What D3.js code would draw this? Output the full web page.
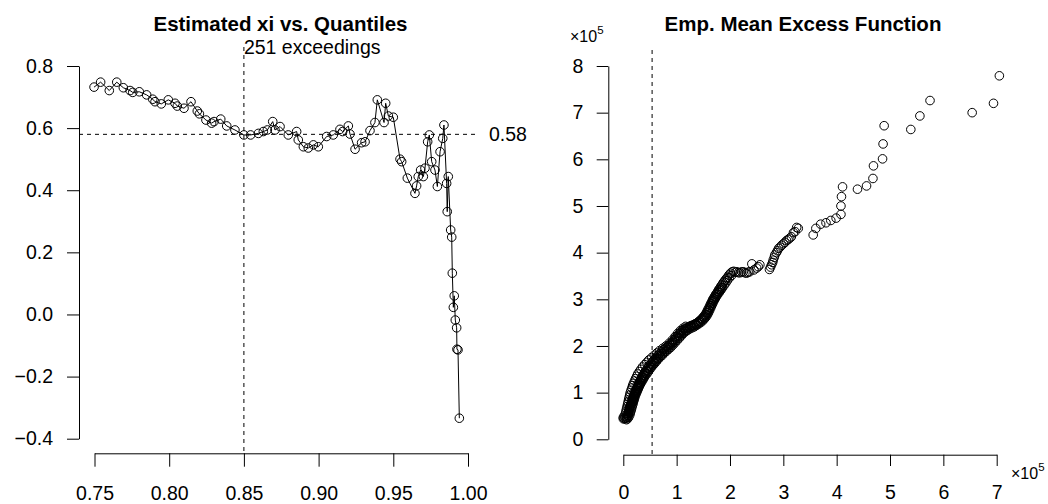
<!DOCTYPE html>
<html>
<head>
<meta charset="utf-8">
<script src="https://cdn.jsdelivr.net/npm/d3@7"></script>
<style>
  body { margin: 0; background: #fff; }
  svg { display: block; font-family: "Liberation Sans", Arial, Helvetica, sans-serif; }
</style>
</head>
<body>
<svg id="chart" width="1048" height="504"></svg>
<script>
// left panel: shape estimate (xi) against the threshold quantile
const xiQuantiles = [0.7497, 0.7541, 0.7599, 0.7649, 0.7693, 0.7738, 0.7756, 0.7800, 0.7849, 0.7890,
  0.7905, 0.7947, 0.7994, 0.8039, 0.8054, 0.8099, 0.8146, 0.8188, 0.8202, 0.8246,
  0.8284, 0.8300, 0.8345, 0.8385, 0.8440, 0.8500, 0.8545, 0.8597, 0.8630, 0.8657,
  0.8693, 0.8708, 0.8742, 0.8797, 0.8853, 0.8864, 0.8898, 0.8931, 0.8965, 0.8998,
  0.9054, 0.9098, 0.9143, 0.9161, 0.9199, 0.9210, 0.9244, 0.9288, 0.9311, 0.9344,
  0.9377, 0.9393, 0.9438, 0.9449, 0.9467, 0.9500, 0.9545, 0.9556, 0.9594, 0.9645,
  0.9656, 0.9667, 0.9683, 0.9701, 0.9712, 0.9730, 0.9741, 0.9757, 0.9779, 0.9795,
  0.9813, 0.9831, 0.9839, 0.9857, 0.9861, 0.9868, 0.9884, 0.9891, 0.9895, 0.9902,
  0.9908, 0.9915, 0.9924, 0.9926, 0.9933, 0.9942];
const xiEstimates = [0.732, 0.748, 0.721, 0.748, 0.730, 0.721, 0.715, 0.717, 0.707, 0.693,
  0.685, 0.678, 0.691, 0.680, 0.671, 0.664, 0.685, 0.655, 0.646, 0.626,
  0.616, 0.621, 0.629, 0.607, 0.594, 0.578, 0.578, 0.583, 0.589, 0.594,
  0.621, 0.594, 0.605, 0.578, 0.589, 0.562, 0.540, 0.536, 0.546, 0.540,
  0.573, 0.578, 0.596, 0.589, 0.607, 0.581, 0.532, 0.553, 0.556, 0.592,
  0.618, 0.691, 0.618, 0.680, 0.639, 0.635, 0.500, 0.492, 0.439, 0.390,
  0.414, 0.444, 0.465, 0.444, 0.471, 0.556, 0.578, 0.492, 0.465, 0.412,
  0.524, 0.567, 0.610, 0.422, 0.331, 0.444, 0.272, 0.249, 0.133, 0.023,
  0.060, -0.018, -0.043, -0.112, -0.114, -0.334];
const xiTicksX = [0.75, 0.80, 0.85, 0.90, 0.95, 1.00];
const xiTicksY = [-0.4, -0.2, 0.0, 0.2, 0.4, 0.6, 0.8];
const chosenQuantile = 0.85;
const chosenXi = 0.58;
const exceedCount = 251;

// right panel: empirical mean excess, both coordinates in units of 1e5
const meThresholds = [0.00, 0.02, 0.04, 0.06, 0.07, 0.08, 0.085, 0.09, 0.095, 0.10,
  0.10, 0.105, 0.11, 0.115, 0.12, 0.13, 0.135, 0.14, 0.145, 0.15,
  0.16, 0.165, 0.17, 0.175, 0.18, 0.19, 0.195, 0.20, 0.205, 0.21,
  0.22, 0.23, 0.24, 0.25, 0.26, 0.27, 0.28, 0.29, 0.30, 0.31,
  0.32, 0.33, 0.34, 0.35, 0.36, 0.375, 0.39, 0.40, 0.41, 0.43,
  0.45, 0.47, 0.49, 0.51, 0.53, 0.55, 0.575, 0.60, 0.62, 0.645,
  0.67, 0.69, 0.72, 0.75, 0.77, 0.80, 0.83, 0.85, 0.88, 0.91,
  0.93, 0.96, 0.98, 1.00, 1.03, 1.05, 1.07, 1.10, 1.12, 1.15,
  1.18, 1.20, 1.23, 1.26, 1.28, 1.31, 1.34, 1.36, 1.39, 1.41,
  1.43, 1.46, 1.48, 1.50, 1.52, 1.54, 1.56, 1.575, 1.59, 1.61,
  1.625, 1.64, 1.66, 1.675, 1.69, 1.71, 1.73, 1.75, 1.77, 1.79,
  1.81, 1.83, 1.85, 1.87, 1.89, 1.91, 1.93, 1.95, 1.98, 2.01,
  2.04, 2.07, 2.10, 2.13, 2.16, 2.19, 2.22, 2.25, 2.28, 2.31,
  2.34, 2.37, 2.41, 2.45, 2.50, 2.53, 2.56, 2.74, 2.76, 2.78,
  2.80, 2.81, 2.83, 2.84, 2.87, 2.89, 2.91, 2.94, 2.97, 3.00,
  3.03, 3.06, 3.09, 3.12, 3.15, 3.19, 3.22, 3.25, 3.28, 3.56,
  3.61, 3.70, 3.80, 3.89, 3.99, 4.08, 4.08, 4.09, 4.11, 4.39,
  4.56, 4.68, 4.69, 4.86, 4.87, 4.89, 5.39, 5.56, 5.75, 6.54,
  6.94, 7.05];
const meValues = [0.44, 0.44, 0.45, 0.46, 0.48, 0.50, 0.52, 0.54, 0.56, 0.58,
  0.60, 0.62, 0.64, 0.66, 0.68, 0.70, 0.72, 0.74, 0.76, 0.78,
  0.80, 0.82, 0.84, 0.86, 0.88, 0.90, 0.92, 0.94, 0.96, 0.98,
  1.00, 1.03, 1.06, 1.08, 1.11, 1.14, 1.16, 1.19, 1.21, 1.23,
  1.26, 1.28, 1.31, 1.33, 1.36, 1.38, 1.41, 1.43, 1.45, 1.48,
  1.52, 1.55, 1.58, 1.61, 1.64, 1.67, 1.70, 1.73, 1.76, 1.79,
  1.82, 1.84, 1.88, 1.91, 1.93, 1.96, 1.99, 2.01, 2.04, 2.07,
  2.10, 2.14, 2.17, 2.20, 2.23, 2.26, 2.29, 2.32, 2.34, 2.36,
  2.38, 2.40, 2.41, 2.43, 2.44, 2.45, 2.47, 2.48, 2.50, 2.52,
  2.54, 2.57, 2.59, 2.62, 2.65, 2.68, 2.72, 2.75, 2.79, 2.83,
  2.87, 2.91, 2.95, 2.99, 3.02, 3.06, 3.10, 3.13, 3.17, 3.21,
  3.24, 3.28, 3.31, 3.35, 3.38, 3.41, 3.44, 3.47, 3.52, 3.56,
  3.59, 3.60, 3.58, 3.59, 3.57, 3.57, 3.59, 3.59, 3.57, 3.56,
  3.58, 3.59, 3.76, 3.63, 3.67, 3.70, 3.74, 3.64, 3.69, 3.74,
  3.79, 3.84, 3.90, 3.95, 4.00, 4.04, 4.09, 4.12, 4.16, 4.19,
  4.22, 4.26, 4.28, 4.31, 4.34, 4.43, 4.45, 4.54, 4.52, 4.38,
  4.52, 4.61, 4.64, 4.69, 4.74, 4.82, 5.00, 5.20, 5.41, 5.36,
  5.43, 5.59, 5.86, 6.01, 6.33, 6.72, 6.64, 6.93, 7.26, 7.00,
  7.20, 7.79];
// extra readings across the width of the dense (black) part of the band
const meBandRight = [[0.06, 0.42], [0.08, 0.44], [0.10, 0.47], [0.12, 0.52], [0.13, 0.56], [0.14, 0.60],
  [0.15, 0.64], [0.16, 0.68], [0.17, 0.72], [0.18, 0.76], [0.19, 0.80], [0.20, 0.84], [0.21, 0.88],
  [0.22, 0.92], [0.235, 0.96], [0.25, 1.00], [0.265, 1.04], [0.28, 1.08], [0.295, 1.12], [0.31, 1.16],
  [0.33, 1.20], [0.35, 1.24], [0.37, 1.28], [0.39, 1.32], [0.41, 1.36], [0.44, 1.40], [0.47, 1.45],
  [0.50, 1.50], [0.53, 1.55], [0.56, 1.59], [0.59, 1.63], [0.62, 1.67], [0.65, 1.71], [0.69, 1.76],
  [0.73, 1.80], [0.77, 1.85], [0.81, 1.89], [0.85, 1.93], [0.89, 1.97], [0.93, 2.02], [0.97, 2.07],
  [1.01, 2.12], [1.05, 2.17], [1.09, 2.22], [1.13, 2.27], [1.17, 2.31], [1.21, 2.34], [1.25, 2.37],
  [1.29, 2.39], [1.33, 2.41], [1.37, 2.44], [1.41, 2.47], [1.45, 2.50], [1.49, 2.54], [1.52, 2.58],
  [1.55, 2.62], [1.58, 2.67], [1.60, 2.72], [1.62, 2.77], [1.64, 2.82], [1.66, 2.87], [1.68, 2.92],
  [1.70, 2.97], [1.72, 3.01], [1.74, 3.05], [1.77, 3.10], [1.80, 3.15], [1.83, 3.20], [1.86, 3.25],
  [1.89, 3.30], [1.92, 3.35], [1.95, 3.40], [1.99, 3.46], [2.03, 3.51]];
const meBandMid = [[0.17, 0.80], [0.185, 0.86], [0.20, 0.92], [0.22, 0.98], [0.24, 1.04], [0.26, 1.10],
  [0.28, 1.14], [0.30, 1.18], [0.32, 1.22], [0.345, 1.27], [0.37, 1.32], [0.395, 1.37], [0.42, 1.41],
  [0.45, 1.46], [0.48, 1.51], [0.51, 1.55], [0.545, 1.60], [0.58, 1.65], [0.615, 1.70], [0.65, 1.74],
  [0.69, 1.79], [0.73, 1.83], [0.77, 1.88], [0.81, 1.92], [0.85, 1.96], [0.89, 2.01], [0.93, 2.06],
  [0.97, 2.11], [1.01, 2.16], [1.05, 2.21], [1.09, 2.26], [1.13, 2.30], [1.17, 2.34], [1.21, 2.37],
  [1.25, 2.40], [1.29, 2.42], [1.33, 2.44], [1.37, 2.46], [1.41, 2.49], [1.45, 2.53], [1.49, 2.57],
  [1.52, 2.61], [1.55, 2.66], [1.575, 2.71], [1.60, 2.76], [1.62, 2.81], [1.64, 2.86], [1.66, 2.91],
  [1.68, 2.96], [1.70, 3.00], [1.72, 3.04], [1.75, 3.09], [1.78, 3.14], [1.81, 3.19], [1.84, 3.24]];
const meBandLeft = [[0.00, 0.47], [0.02, 0.50], [0.04, 0.55], [0.05, 0.60], [0.06, 0.65], [0.07, 0.70],
  [0.08, 0.75], [0.09, 0.80], [0.10, 0.85], [0.11, 0.90], [0.12, 0.95], [0.13, 1.00], [0.145, 1.05],
  [0.16, 1.10], [0.175, 1.15], [0.19, 1.20], [0.21, 1.25], [0.23, 1.30], [0.25, 1.35], [0.27, 1.40],
  [0.30, 1.45], [0.33, 1.50], [0.36, 1.55], [0.40, 1.60], [0.44, 1.65], [0.48, 1.70], [0.53, 1.75],
  [0.58, 1.80], [0.63, 1.85], [0.68, 1.90], [0.74, 1.95], [0.80, 2.00], [0.86, 2.06], [0.92, 2.13],
  [0.97, 2.20], [1.02, 2.27], [1.07, 2.33], [1.12, 2.38], [1.17, 2.42]];
const meTicksX = [0, 1, 2, 3, 4, 5, 6, 7];
const meTicksY = [0, 1, 2, 3, 4, 5, 6, 7, 8];
const meThreshold = 0.54;

const svg = d3.select("#chart");
const fontSize = 19.5;
const minus = s => s.replace("-", "\u2212");

// ---------- left panel ----------
const boxL = {left: 79, right: 478, top: 47, bottom: 453.3};
const xL = d3.scaleLinear().domain([0.75, 1.00]).range([94.5, 468]);
const yL = d3.scaleLinear().domain([-0.4, 0.8]).range([438.7, 66]);

function styleAxis(g) {
    g.selectAll("path, line").attr("stroke", "#000").attr("stroke-width", 1);
    g.selectAll("text").attr("font-size", fontSize).attr("fill", "#000");
    g.attr("font-family", null).attr("font-size", null);
}

svg.append("g")
    .attr("transform", "translate(" + boxL.left + ",0)")
    .call(d3.axisLeft(yL).tickValues(xiTicksY).tickSize(12).tickSizeOuter(0).tickPadding(14)
        .tickFormat(d => minus(d3.format(".1f")(d))))
    .call(styleAxis);

svg.append("g")
    .attr("transform", "translate(0," + boxL.bottom + ")")
    .call(d3.axisBottom(xL).tickValues(xiTicksX).tickSize(13.4).tickSizeOuter(0).tickPadding(19.5)
        .tickFormat(d3.format(".2f")))
    .call(styleAxis);

// dashed guides at the chosen threshold
svg.append("line")
    .attr("x1", xL(chosenQuantile)).attr("x2", xL(chosenQuantile))
    .attr("y1", boxL.top).attr("y2", boxL.bottom)
    .attr("stroke", "#000").attr("stroke-dasharray", "4,4");
svg.append("line")
    .attr("x1", boxL.left).attr("x2", boxL.right)
    .attr("y1", yL(chosenXi)).attr("y2", yL(chosenXi))
    .attr("stroke", "#000").attr("stroke-dasharray", "4,4");

let xiData = xiQuantiles.map((q, i) => ({q: q, xi: xiEstimates[i]}));

svg.append("path")
    .datum(xiData)
    .attr("fill", "none")
    .attr("stroke", "#000")
    .attr("stroke-width", 1)
    .attr("d", d3.line().x(d => xL(d.q)).y(d => yL(d.xi)));

svg.append("g").selectAll("circle")
    .data(xiData)
    .join("circle")
    .attr("cx", d => xL(d.q))
    .attr("cy", d => yL(d.xi))
    .attr("r", 4.3)
    .attr("fill", "none")
    .attr("stroke", "#000");

svg.append("text")
    .attr("x", (boxL.left + boxL.right) / 2 + 2).attr("y", 31)
    .attr("text-anchor", "middle").attr("font-weight", "bold").attr("font-size", 20.5)
    .text("Estimated xi vs. Quantiles");
svg.append("text")
    .attr("x", xL(chosenQuantile)).attr("y", 54)
    .attr("font-size", fontSize)
    .text(exceedCount + " exceedings");
svg.append("text")
    .attr("x", 489).attr("y", yL(chosenXi)).attr("dy", "0.35em")
    .attr("font-size", fontSize)
    .text(chosenXi.toFixed(2));

// ---------- right panel ----------
const boxR = {left: 608.3, right: 1011, top: 50, bottom: 454.7};
const xR = d3.scaleLinear().domain([0, 7]).range([623.3, 996.7]);
const yR = d3.scaleLinear().domain([0, 8]).range([439.3, 66]);

svg.append("g")
    .attr("transform", "translate(" + boxR.left + ",0)")
    .call(d3.axisLeft(yR).tickValues(meTicksY).tickSize(11.6).tickSizeOuter(0).tickPadding(13.4)
        .tickFormat(d3.format("d")))
    .call(styleAxis);

svg.append("g")
    .attr("transform", "translate(0," + boxR.bottom + ")")
    .call(d3.axisBottom(xR).tickValues(meTicksX).tickSize(11.3).tickSizeOuter(0).tickPadding(19.5)
        .tickFormat(d3.format("d")))
    .call(styleAxis);

svg.append("line")
    .attr("x1", xR(meThreshold)).attr("x2", xR(meThreshold))
    .attr("y1", boxR.top).attr("y2", boxR.bottom)
    .attr("stroke", "#000").attr("stroke-dasharray", "4,4");

let meData = meThresholds.map((u, i) => [u, meValues[i]]).concat(meBandRight, meBandMid, meBandLeft);

svg.append("g").selectAll("circle")
    .data(meData)
    .join("circle")
    .attr("cx", d => xR(d[0]))
    .attr("cy", d => yR(d[1]))
    .attr("r", 4.3)
    .attr("fill", "none")
    .attr("stroke", "#000");

svg.append("text")
    .attr("x", 803).attr("y", 31)
    .attr("text-anchor", "middle").attr("font-weight", "bold").attr("font-size", 20.5)
    .text("Emp. Mean Excess Function");

// x10^5 multipliers
function powerLabel(x, y) {
    let t = svg.append("text").attr("x", x).attr("y", y).attr("font-size", 16);
    t.append("tspan").text("\u00d710");
    t.append("tspan").attr("dy", -8).attr("font-size", 11.5).text("5");
}
powerLabel(570, 42);
powerLabel(1011, 479);
</script>
</body>
</html>
